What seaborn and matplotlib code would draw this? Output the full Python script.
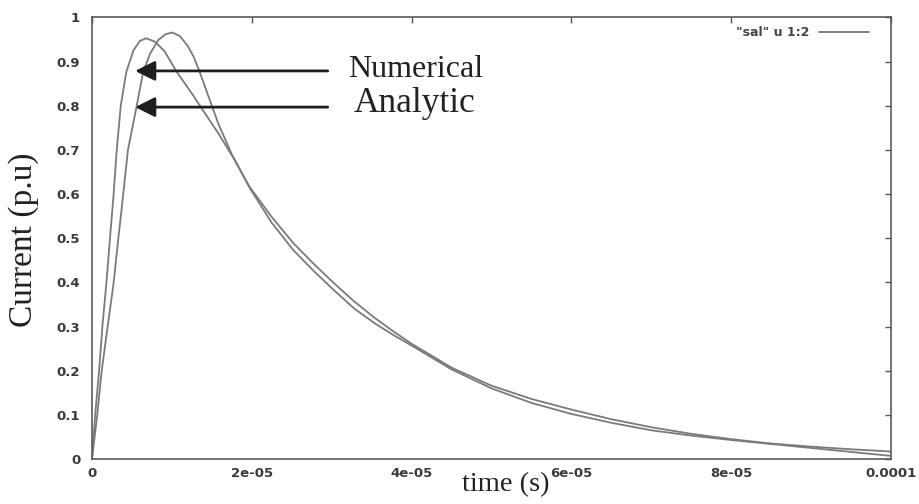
import matplotlib
matplotlib.use("Agg")
import matplotlib.pyplot as plt
import seaborn as sns
import numpy as np

# time values in units of 1e-5 s
num_t = [0, 0.04, 0.088, 0.13, 0.18, 0.225, 0.27, 0.31, 0.36, 0.43, 0.52, 0.60,
         0.68, 0.79, 0.91, 1.06, 1.25, 1.37, 1.58, 1.79, 1.97, 2.25, 2.52, 2.78,
         3.03, 3.28, 3.55, 3.78, 4.0, 4.5, 5.0, 5.5, 6.0, 6.5, 7.0, 7.5, 8.0,
         8.5, 9.0, 9.5, 10.0]
num_i = [0, 0.10, 0.198, 0.30, 0.398, 0.50, 0.598, 0.70, 0.80, 0.877, 0.926, 0.947,
         0.953, 0.945, 0.923, 0.877, 0.828, 0.795, 0.738, 0.676, 0.617, 0.548, 0.489, 0.441,
         0.398, 0.357, 0.318, 0.288, 0.261, 0.207, 0.166, 0.136, 0.112, 0.090, 0.072, 0.057, 0.045,
         0.035, 0.028, 0.022, 0.017]

ana_t = [0, 0.066, 0.12, 0.196, 0.27, 0.33, 0.39, 0.45, 0.56, 0.64, 0.73, 0.83,
         0.92, 1.005, 1.10, 1.20, 1.27, 1.33, 1.39, 1.45, 1.58, 1.75, 1.97, 2.25,
         2.52, 2.78, 3.03, 3.28, 3.55, 3.78, 4.0, 4.5, 5.0, 5.5, 6.0, 6.5, 7.0,
         7.5, 8.0, 8.5, 9.0, 9.5, 10.0]
ana_i = [0, 0.10, 0.198, 0.30, 0.398, 0.50, 0.598, 0.70, 0.80, 0.877, 0.919, 0.949,
         0.962, 0.966, 0.958, 0.935, 0.912, 0.885, 0.856, 0.825, 0.76, 0.69, 0.615, 0.535,
         0.473, 0.425, 0.382, 0.341, 0.306, 0.280, 0.257, 0.203, 0.160, 0.127, 0.102, 0.082, 0.065,
         0.053, 0.043, 0.034, 0.025, 0.016, 0.007]

x_ticks = [0, 2e-5, 4e-5, 6e-5, 8e-5, 1e-4]
x_labels = ["0", "2e-05", "4e-05", "6e-05", "8e-05", "0.0001"]
y_ticks = [0, 0.1, 0.2, 0.3, 0.4, 0.5, 0.6, 0.7, 0.8, 0.9, 1.0]
y_labels = ["0", "0.1", "0.2", "0.3", "0.4", "0.5", "0.6", "0.7", "0.8", "0.9", "1"]

legend_label = '"sal" u 1:2'

sns.set_theme(style="white")
plt.rcParams.update({
    "font.family": ["DejaVu Sans"],
    "xtick.direction": "in",
    "ytick.direction": "in",
})

fig = plt.figure(figsize=(9.19, 5.04), dpi=100)
ax = fig.add_axes([0.1001, 0.0893, 0.8694, 0.876])

line_color = "#7a7a7a"
sns.lineplot(x=np.array(num_t) * 1e-5, y=num_i, ax=ax, color=line_color,
             linewidth=1.3, label=legend_label)
sns.lineplot(x=np.array(ana_t) * 1e-5, y=ana_i, ax=ax, color=line_color,
             linewidth=1.3)

ax.set_xlim(0, 1e-4)
ax.set_ylim(0, 1)
ax.set_xticks(x_ticks)
ax.set_xticklabels(x_labels)
ax.set_yticks(y_ticks)
ax.set_yticklabels(y_labels)

tick_font = dict(family="DejaVu Sans", weight="bold", size=9.5)
for lab in ax.get_xticklabels() + ax.get_yticklabels():
    lab.set_fontproperties(tick_font)
    lab.set_color("#3a3a3a")

ax.tick_params(axis="both", which="major", top=True, right=True,
               length=4, width=1, color="#555555")
ax.tick_params(axis="y", pad=8.5)
ax.tick_params(axis="x", pad=5.5)

for sp in ax.spines.values():
    sp.set_color("#5a5a5a")
    sp.set_linewidth(1.2)

ax.set_xlabel("time (s)", family="Liberation Serif", fontsize=20.5, color="#222222")
ax.set_ylabel("Current (p.u)", family="Liberation Serif", fontsize=24, color="#222222")
ax.xaxis.set_label_coords(0.518, -0.03)
ax.yaxis.set_label_coords(-0.066, 0.496)

# arrows pointing at the curves
arrow_props = dict(arrowstyle="-|>,head_length=0.6,head_width=0.3",
                   color="#1e1e1e", lw=2, shrinkA=0, shrinkB=0,
                   mutation_scale=20)
ax.annotate("", xy=(0.54e-5, 0.879), xytext=(2.95e-5, 0.879), arrowprops=arrow_props)
ax.annotate("", xy=(0.54e-5, 0.797), xytext=(2.95e-5, 0.797), arrowprops=arrow_props)

ax.text(3.20e-5, 0.865, "Numerical", family="Liberation Serif", fontsize=23,
        color="#222222", va="baseline", ha="left")
ax.text(3.27e-5, 0.786, "Analytic", family="Liberation Serif", fontsize=25.5,
        color="#222222", va="baseline", ha="left")

leg = ax.legend(loc="upper right", bbox_to_anchor=(0.984, 1.0), frameon=False,
                markerfirst=False, handlelength=4.0, borderaxespad=0.4,
                borderpad=0.3, handletextpad=0.8,
                prop=dict(family="DejaVu Sans", weight="bold", size=9))
for t in leg.get_texts():
    t.set_color("#444444")

fig.savefig("out.png", dpi=100)
